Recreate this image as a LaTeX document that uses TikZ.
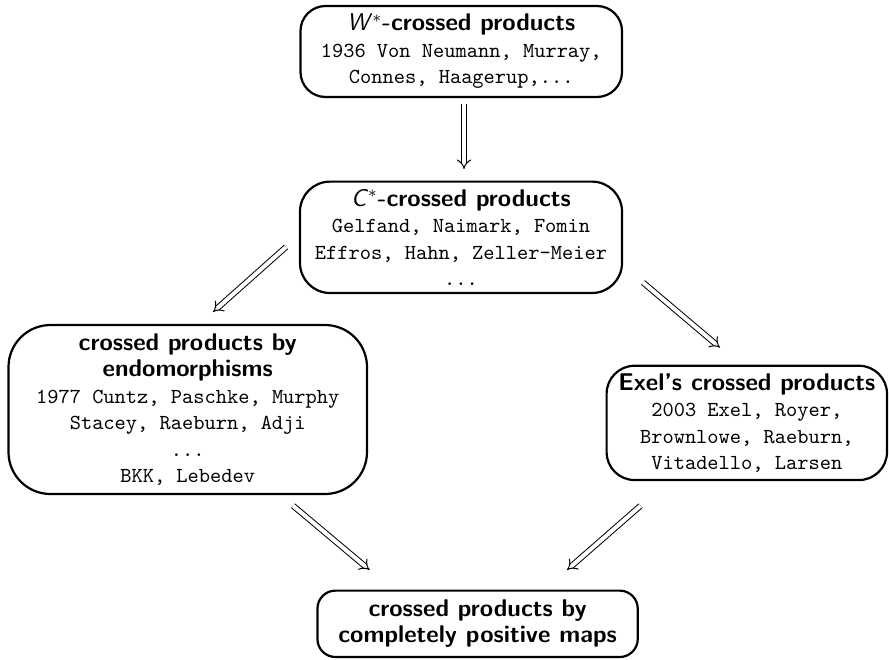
\documentclass[tikz,border=0pt]{standalone}
\usetikzlibrary{arrows.meta}
\newcommand{\ttlx}[1]{{\fontsize{12.1pt}{13.25pt}\selectfont\sffamily\bfseries #1}}
\begin{document}
\begin{tikzpicture}[x=0.5pt,y=-0.5pt,
  box/.style={draw, line width=1.1pt, align=center, inner sep=0pt,
    font=\fontsize{10.7pt}{13.25pt}\selectfont\ttfamily},
  imp/.style={double, double distance=2pt, line width=0.5pt, -{Implies}}]
\useasboundingbox (0,0) rectangle (889,659);
\node[box, rounded corners=12.5pt, minimum width=160.75pt, minimum height=45.5pt] (W) at (461.25,51.5)
  {\ttlx{{\mdseries\itshape W\/}$^{*}$-crossed products}\\1936 Von Neumann, Murray,\\Connes, Haagerup,...};
\node[box, rounded corners=15pt, minimum width=161pt, minimum height=55.7pt] (C) at (461,237.3)
  {\ttlx{{\mdseries\itshape C\/}$^{*}$-crossed products}\\Gelfand, Naimark, Fomin\\Effros, Hahn, Zeller-Meier\\...};
\node[box, rounded corners=21pt, minimum width=179.25pt, minimum height=84.5pt] (E) at (187.75,409.5)
  {\ttlx{crossed products by}\\\ttlx{endomorphisms}\\1977 Cuntz, Paschke, Murphy\\Stacey, Raeburn, Adji\\...\\BKK, Lebedev};
\node[box, rounded corners=14pt, minimum width=140.2pt, minimum height=57.15pt] (X) at (746.8,422.9)
  {\ttlx{Exel's crossed products}\\2003 Exel, Royer,\\Brownlowe, Raeburn,\\Vitadello, Larsen};
\node[box, rounded corners=9pt, minimum width=160.15pt, minimum height=33.2pt] (B) at (477.6,623.8)
  {\ttlx{crossed products by}\\\ttlx{completely positive maps}};
\coordinate (w1) at (464,104); \coordinate (c1) at (464,169);
\coordinate (c2) at (286,247); \coordinate (e1) at (213,312);
\coordinate (c3) at (643,282.5); \coordinate (x1) at (720,347.6);
\coordinate (e2) at (293,505.7); \coordinate (b1) at (369.6,570);
\coordinate (x2) at (640.6,505.7); \coordinate (b2) at (567,570);
\draw[imp] (w1) -- (c1);
\draw[imp] (c2) -- (e1);
\draw[imp] (c3) -- (x1);
\draw[imp] (e2) -- (b1);
\draw[imp] (x2) -- (b2);
\end{tikzpicture}
\end{document}
